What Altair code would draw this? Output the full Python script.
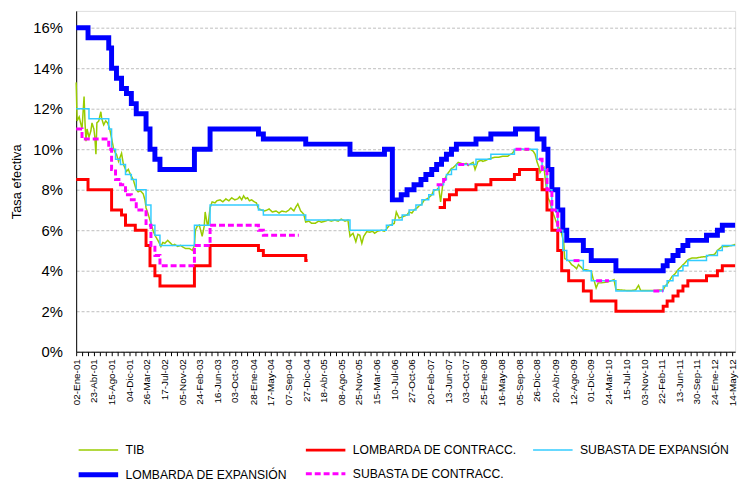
import altair as alt
import pandas as pd

# ---------------- data (days since 02-Ene-01, rate in %) ----------------
INICIO = pd.Timestamp("2001-01-02")

series = ["TIB", "LOMBARDA DE CONTRACC.", "SUBASTA DE EXPANSIÓN",
          "LOMBARDA DE EXPANSIÓN", "SUBASTA DE CONTRACC."]
colores = ["#99CC00", "#FF0000", "#33CCFF", "#0000FF", "#FF00FF"]
grosores = [1.5, 3, 1.5, 5, 3]
trazos = [[1, 0], [1, 0], [1, 0], [1, 0], [6, 3]]
orden_dibujo = [0, 1, 3, 2, 4]

# Lombarda de expansión (step changes)
le_dias = [0, 75, 206, 224, 255, 287, 318, 349, 380, 442, 467, 498, 530, 748, 847,
           1153, 1184, 1452, 1732, 1950, 2000, 2056, 2093, 2137, 2181, 2212, 2249,
           2280, 2311, 2342, 2374, 2405, 2529, 2623, 2779, 2916, 2959, 2984, 3009,
           3046, 3078, 3103, 3208, 3258, 3414, 3713, 3738, 3775, 3807, 3838, 3869,
           3987, 4056, 4087, 4168]
le_tasa = [16.0, 15.5, 15.0, 14.0, 13.5, 13.0, 12.75, 12.25, 11.75, 11.0, 10.0, 9.5, 9.0,
           10.0, 11.0, 10.75, 10.5, 10.25, 9.75, 10.0, 7.5, 7.75, 8.0, 8.25, 8.5, 8.75,
           9.0, 9.25, 9.5, 9.75, 10.0, 10.25, 10.5, 10.75, 11.0, 10.5, 10.0, 9.0, 8.0,
           7.0, 6.0, 5.5, 5.0, 4.5, 4.0, 4.25, 4.5, 4.75, 5.0, 5.25, 5.5, 5.75, 6.0,
           6.25, 6.25]

# Subasta de expansión
se_dias = [0, 81, 206, 224, 249, 280, 312, 349, 380, 442, 473, 498, 530, 748, 847,
           1153, 1184, 1452, 1732, 1962, 2000, 2062, 2106, 2149, 2187, 2230, 2261,
           2293, 2324, 2342, 2374, 2405, 2529, 2623, 2772, 2916, 2947, 2978, 3009,
           3046, 3078, 3103, 3208, 3258, 3414, 3713, 3738, 3775, 3807, 3838, 3869,
           3987, 4056, 4087, 4168]
se_tasa = [12.0, 11.5, 11.0, 10.0, 9.5, 9.25, 8.75, 8.5, 8.0, 7.25, 6.25, 5.75, 5.25,
           6.25, 7.25, 7.0, 6.75, 6.5, 6.0, 6.25, 6.5, 6.75, 7.0, 7.25, 7.5, 7.75, 8.0,
           8.25, 8.5, 8.75, 9.0, 9.25, 9.5, 9.75, 10.0, 9.5, 9.0, 8.0, 7.0, 6.0, 5.0,
           4.5, 4.0, 3.5, 3.0, 3.25, 3.5, 3.75, 4.0, 4.25, 4.5, 4.75, 5.0, 5.25, 5.25]

# Lombarda de contracción (two periods)
lc1_dias = [0, 75, 224, 287, 312, 374, 442, 467, 498, 530, 748, 847, 1153, 1184, 1452, 1464]
lc1_tasa = [8.5, 8.0, 7.0, 6.75, 6.25, 6.0, 5.25, 4.25, 3.75, 3.25, 4.25, 5.25, 5.0, 4.75, 4.5, 4.5]
lc2_dias = [2293, 2330, 2361, 2405, 2529, 2623, 2772, 2804, 2916, 2947, 2978, 3009, 3046,
            3071, 3115, 3208, 3258, 3414, 3713, 3738, 3775, 3807, 3838, 3869, 3987, 4056,
            4087, 4168]
lc2_tasa = [7.125, 7.5, 7.75, 8.0, 8.25, 8.5, 8.75, 9.0, 8.5, 8.0, 7.0, 6.0, 5.0, 4.0, 3.5,
            3.0, 2.5, 2.0, 2.25, 2.5, 2.75, 3.0, 3.25, 3.5, 3.75, 4.0, 4.25, 4.25]

# Subasta de contracción (periods when it was offered)
sc_tramos = [
    ([0, 37, 206, 224, 249, 280, 312, 349, 380, 442, 473, 498, 530, 748, 847, 1153, 1184, 1408],
     [11.0, 10.5, 10.0, 9.0, 8.5, 8.25, 7.75, 7.5, 7.0, 6.25, 5.25, 4.75, 4.25, 5.25, 6.25, 6.0, 5.75, 5.75]),
    ([2280, 2324, 2355], [8.25, 8.5, 8.5]),
    ([2417, 2480], [9.25, 9.25]),
    ([2779, 2866], [10.0, 10.0]),
    ([2928, 2947, 2978, 3009, 3046, 3071], [9.5, 9.0, 8.0, 7.0, 6.0, 6.0]),
    ([3146, 3196], [4.5, 4.5]),
    ([3289, 3370], [3.5, 3.5]),
    ([3651, 3713], [3.0, 3.0]),
]

# TIB (daily interbank rate, read point by point)
tib_dias = [0, 6, 19, 31, 37, 50, 56, 62, 69, 81, 93, 100, 112, 118, 125, 131, 143, 156, 162,
            174, 187, 199, 212, 224, 237, 249, 255, 268, 287, 299, 318, 330, 343, 361, 380,
            392, 405, 424, 436, 442, 455, 467, 486, 498, 517, 536, 548, 561, 579, 598, 611,
            623, 642, 660, 679, 692, 716, 735, 748, 754, 766, 779, 797, 810, 816, 829, 835,
            847, 860, 878, 891, 910, 928, 947, 966, 984, 1003, 1022, 1034, 1047, 1059, 1072,
            1084, 1096, 1109, 1128, 1140, 1153, 1171, 1190, 1202, 1221, 1240, 1265, 1283,
            1302, 1327, 1346, 1358, 1377, 1389, 1402, 1420, 1439, 1452, 1470, 1489, 1514,
            1533, 1551, 1576, 1595, 1614, 1638, 1657, 1676, 1701, 1719, 1732, 1751, 1769,
            1782, 1794, 1807, 1819, 1838, 1857, 1875, 1888, 1906, 1931, 1950, 1962, 1981,
            2000, 2012, 2025, 2043, 2062, 2075, 2093, 2106, 2124, 2137, 2156, 2168, 2187,
            2199, 2218, 2230, 2249, 2261, 2280, 2293, 2305, 2318, 2324, 2342, 2355, 2374,
            2386, 2405, 2417, 2436, 2448, 2467, 2480, 2498, 2511, 2523, 2542, 2561, 2573,
            2592, 2604, 2623, 2648, 2673, 2698, 2729, 2747, 2760, 2772, 2797, 2822, 2847,
            2872, 2891, 2903, 2916, 2928, 2934, 2947, 2959, 2972, 2984, 2997, 3009, 3028,
            3046, 3065, 3084, 3090, 3103, 3115, 3134, 3152, 3165, 3177, 3196, 3208, 3227,
            3246, 3258, 3271, 3277, 3289, 3302, 3321, 3339, 3364, 3383, 3402, 3414, 3445,
            3476, 3507, 3539, 3557, 3570, 3601, 3632, 3663, 3694, 3713, 3726, 3744, 3769,
            3788, 3807, 3832, 3850, 3869, 3894, 3925, 3956, 3987, 4006, 4037, 4056, 4087,
            4118, 4149, 4168]
tib_tasa = [13.3, 11.4, 11.6, 11.2, 11.0, 12.6, 11.3, 10.4, 11.0, 10.6, 10.9, 11.3, 11.0,
            10.6, 9.75, 11.3, 11.4, 11.85, 11.5, 11.2, 11.4, 11.3, 11.0, 10.55, 10.0, 9.8,
            9.75, 9.4, 9.8, 9.25, 8.9, 9.0, 8.75, 8.5, 8.0, 7.9, 7.95, 7.8, 7.46, 7.1, 6.8,
            6.5, 6.0, 5.75, 5.5, 5.2, 5.4, 5.35, 5.5, 5.35, 5.25, 5.3, 5.2, 5.25, 5.15, 5.1,
            5.1, 5.0, 5.25, 6.0, 6.2, 6.25, 5.7, 6.2, 6.9, 6.3, 6.3, 7.1, 7.4, 7.35, 7.46,
            7.5, 7.4, 7.55, 7.45, 7.6, 7.5, 7.55, 7.65, 7.5, 7.7, 7.55, 7.6, 7.45, 7.5, 7.4,
            7.35, 7.07, 7.0, 6.95, 6.98, 7.05, 6.9, 6.95, 6.85, 6.95, 6.9, 7.0, 7.1, 6.95,
            7.14, 7.3, 6.95, 6.8, 6.4, 6.45, 6.35, 6.35, 6.45, 6.4, 6.45, 6.5, 6.45, 6.5,
            6.45, 6.55, 6.45, 6.5, 5.7, 5.85, 5.43, 5.8, 5.75, 5.35, 5.7, 5.93, 5.9, 5.95,
            5.85, 5.95, 6.0, 5.95, 6.05, 6.24, 6.3, 6.33, 6.9, 6.6, 6.65, 6.7, 6.75, 6.9,
            6.85, 7.0, 7.1, 7.2, 7.3, 7.46, 7.55, 7.6, 7.75, 7.95, 8.0, 8.1, 7.4, 8.2, 8.4,
            8.7, 8.85, 9.05, 9.1, 9.25, 9.35, 9.3, 9.25, 9.3, 9.2, 9.3, 9.35, 9.0, 9.4,
            9.45, 9.4, 9.45, 9.5, 9.55, 9.6, 9.6, 9.65, 9.65, 9.75, 9.8, 9.95, 10.0, 10.0,
            9.95, 10.0, 9.9, 9.75, 9.35, 9.1, 8.85, 9.0, 9.1, 8.2, 7.6, 7.4, 7.0, 6.6, 6.2,
            6.0, 5.4, 4.6, 4.55, 4.5, 4.3, 4.2, 4.1, 4.3, 4.15, 4.05, 4.05, 4.0, 4.0, 3.56,
            3.5, 3.15, 3.4, 3.4, 3.42, 3.45, 3.5, 3.56, 3.07, 3.05, 3.03, 3.02, 3.05, 3.28,
            3.03, 3.02, 3.03, 3.02, 3.05, 3.05, 3.25, 3.4, 3.72, 3.85, 4.05, 4.24, 4.38,
            4.54, 4.63, 4.63, 4.68, 4.7, 4.78, 4.8, 5.0, 5.2, 5.2, 5.25, 5.3]

# x-axis tick labels
etiquetas_fechas = ["2001-01-02", "2001-04-23", "2001-08-15", "2001-12-04", "2002-03-26",
                    "2002-07-17", "2002-11-05", "2003-02-24", "2003-06-16", "2003-10-03",
                    "2004-01-28", "2004-05-17", "2004-09-07", "2004-12-27", "2005-04-18",
                    "2005-08-08", "2005-11-25", "2006-03-15", "2006-07-10", "2006-10-27",
                    "2007-02-20", "2007-06-13", "2007-10-03", "2008-01-25", "2008-05-16",
                    "2008-09-05", "2008-12-26", "2009-04-20", "2009-08-12", "2009-12-01",
                    "2010-03-24", "2010-07-15", "2010-11-03", "2011-02-22", "2011-06-13",
                    "2011-09-30", "2012-01-24", "2012-05-14"]
etiquetas_texto = ["02-Ene-01", "23-Abr-01", "15-Ago-01", "04-Dic-01", "26-Mar-02",
                   "17-Jul-02", "05-Nov-02", "24-Feb-03", "16-Jun-03", "03-Oct-03",
                   "28-Ene-04", "17-May-04", "07-Sep-04", "27-Dic-04", "18-Abr-05",
                   "08-Ago-05", "25-Nov-05", "15-Mar-06", "10-Jul-06", "27-Oct-06",
                   "20-Feb-07", "13-Jun-07", "03-Oct-07", "25-Ene-08", "16-May-08",
                   "05-Sep-08", "26-Dic-08", "20-Abr-09", "12-Ago-09", "01-Dic-09",
                   "24-Mar-10", "15-Jul-10", "03-Nov-10", "22-Feb-11", "13-Jun-11",
                   "30-Sep-11", "24-Ene-12", "14-May-12"]
y_ticks = [0, 0.02, 0.04, 0.06, 0.08, 0.10, 0.12, 0.14, 0.16]

# ---------------- build table ----------------
EPOCH = pd.Timestamp("1970-01-01")


def to_ms(ts):
    return int((ts - EPOCH) / pd.Timedelta(milliseconds=1))


def dia_ms(d):
    return to_ms(INICIO + pd.Timedelta(days=d))


filas = []


def agregar(serie, tramo, dias, tasas):
    for d, v in zip(dias, tasas):
        filas.append({"serie": serie, "tramo": f"{serie}-{tramo}", "t": dia_ms(d), "tasa": v / 100})


agregar(series[0], 0, tib_dias, tib_tasa)
agregar(series[1], 0, lc1_dias, lc1_tasa)
agregar(series[1], 1, lc2_dias, lc2_tasa)
agregar(series[2], 0, se_dias, se_tasa)
agregar(series[3], 0, le_dias, le_tasa)
for i, (d, v) in enumerate(sc_tramos):
    agregar(series[4], i, d, v)
df = pd.DataFrame(filas)

# tick positions: labelled ticks plus two minor ticks between each pair
lab_ms = [to_ms(pd.Timestamp(f)) for f in etiquetas_fechas]
tick_ms, tick_txt = [], []
for i, m in enumerate(lab_ms):
    tick_ms.append(m)
    tick_txt.append(etiquetas_texto[i])
    if i + 1 < len(lab_ms):
        paso = (lab_ms[i + 1] - m) / 3
        for k in (1, 2):
            tick_ms.append(int(round(m + k * paso)))
            tick_txt.append("")
arr_ms = "[" + ",".join(str(v) for v in tick_ms) + "]"
arr_txt = "[" + ",".join("'" + s + "'" for s in tick_txt) + "]"
label_expr = f"indexof({arr_ms}, +datum.value) >= 0 ? {arr_txt}[indexof({arr_ms}, +datum.value)] : ''"

FONT = "Liberation Sans"
x_dom = [dia_ms(0), dia_ms(4168)]

leyenda = alt.Legend(
    title=None, orient="none", legendX=10, legendY=433, direction="horizontal",
    columns=3, symbolType="M-2,0H2", symbolSize=400, labelFontSize=12.3,
    labelFont=FONT, labelColor="#000000", columnPadding=12, rowPadding=6,
    symbolOffset=0, labelOffset=15, padding=0, labelLimit=400,
)

base = alt.Chart(df).encode(
    x=alt.X("t:T", title=None,
            scale=alt.Scale(type="utc", domain=x_dom, nice=False),
            axis=alt.Axis(values=tick_ms, labelExpr=label_expr, labelAngle=270,
                          labelFontSize=10, labelFont=FONT, labelColor="#000000",
                          labelOverlap=False, labelFlush=False, labelBound=False,
                          labelPadding=3, tickSize=4, tickColor="#000000",
                          domainColor="#000000", grid=False)),
    y=alt.Y("tasa:Q", title="Tasa efectiva",
            scale=alt.Scale(domain=[0, 0.1683], nice=False, zero=True),
            axis=alt.Axis(values=y_ticks, format=".0%", labelFontSize=15, labelFont=FONT,
                          labelColor="#000000", labelPadding=14, tickSize=0, ticks=False,
                          domainColor="#000000", grid=True, gridColor="#BDBDBD",
                          gridDash=[3, 2], gridWidth=1, titleFont=FONT, titleFontSize=13,
                          titleFontWeight="normal", titleColor="#000000", titlePadding=9)),
    color=alt.Color("serie:N", scale=alt.Scale(domain=series, range=colores), legend=leyenda),
    strokeWidth=alt.StrokeWidth("serie:N",
                                scale=alt.Scale(type="ordinal", domain=series, range=grosores),
                                legend=leyenda),
    strokeDash=alt.StrokeDash("serie:N",
                              scale=alt.Scale(type="ordinal", domain=series, range=trazos),
                              legend=leyenda),
    detail="tramo:N",
)

capas = []
for i in orden_dibujo:
    interp = "linear" if i == 0 else "step-after"
    capas.append(base.transform_filter(alt.datum.serie == series[i])
                 .mark_line(interpolate=interp, strokeJoin="miter", strokeCap="butt"))

chart = alt.layer(*capas).properties(
    width=667, height=345,
    padding={"left": 2, "top": 0, "right": 0, "bottom": 0},
).configure_view(stroke="#555555", strokeWidth=1.2).configure(background="white")

chart.save("out.html", embed_options={"renderer": "svg", "actions": False})
